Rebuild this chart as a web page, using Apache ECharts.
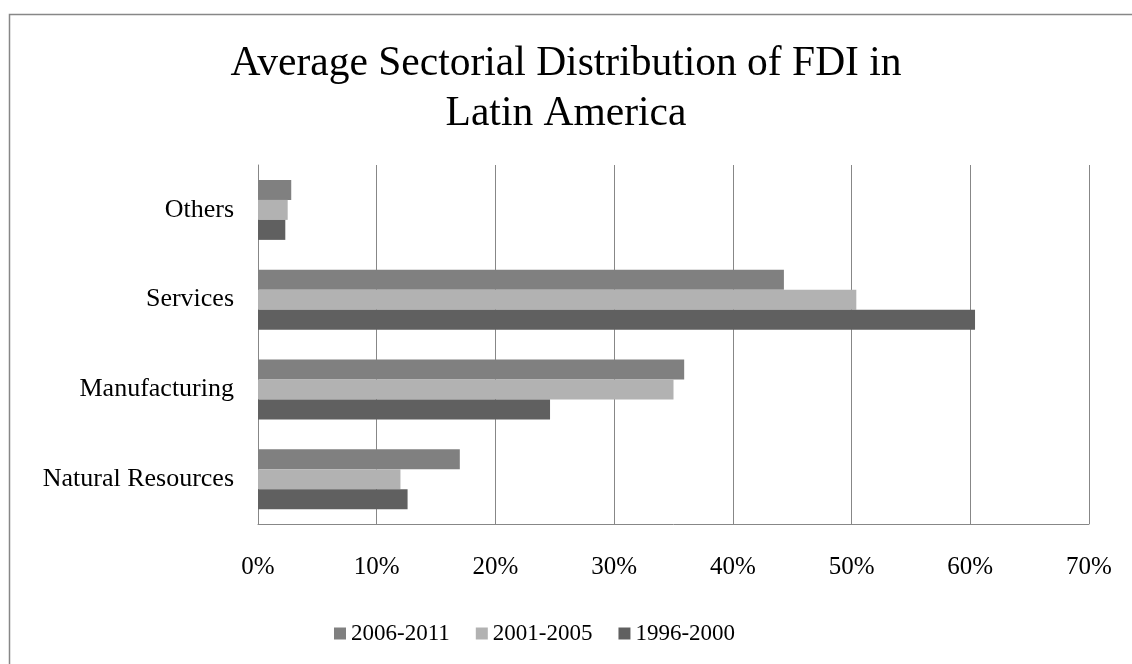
<!DOCTYPE html>
<html>
<head>
<meta charset="utf-8">
<script src="https://cdn.jsdelivr.net/npm/echarts@6/dist/echarts.min.js"></script>
<style>
  html, body { margin: 0; padding: 0; background: #ffffff; }
  #chart { width: 1132px; height: 664px; }
</style>
</head>
<body>
<div id="chart"></div>
<script>
// Sector categories, bottom to top on the vertical axis
const categories = ['Natural Resources', 'Manufacturing', 'Services', 'Others'];

// Average share of FDI per sector (percent)
const period2006_2011 = [17.0, 35.9, 44.3, 2.8];
const period2001_2005 = [12.0, 35.0, 50.4, 2.5];
const period1996_2000 = [12.6, 24.6, 60.4, 2.3];

const legendOrder = ['2006-2011', '2001-2005', '1996-2000'];

const FONT = '"Liberation Serif", "Times New Roman", serif';

const chart = echarts.init(document.getElementById('chart'), null, { renderer: 'canvas' });

function barSeries(name, data, color) {
  return {
    name: name,
    type: 'bar',
    data: data,
    barWidth: 20,
    barGap: '0%',
    itemStyle: { color: color },
    emphasis: { disabled: true }
  };
}

chart.setOption({
  backgroundColor: '#ffffff',
  animation: false,
  title: {
    text: 'Average Sectorial Distribution of FDI in\nLatin America',
    left: 'center',
    top: 34,
    textStyle: {
      fontFamily: FONT,
      fontSize: 41.5,
      fontWeight: 'normal',
      color: '#000000',
      lineHeight: 50
    }
  },
  legend: {
    data: legendOrder,
    left: 334,
    top: 622,
    padding: 0,
    itemWidth: 12,
    itemHeight: 12,
    itemGap: 26,
    icon: 'rect',
    textStyle: { fontFamily: FONT, fontSize: 23, color: '#000000' }
  },
  grid: {
    left: 258,
    right: 43,
    top: 165,
    height: 359,
    containLabel: false
  },
  xAxis: {
    type: 'value',
    min: 0,
    max: 70,
    interval: 10,
    axisLine: { show: true, lineStyle: { color: '#878787', width: 1 } },
    axisTick: { show: false },
    splitLine: { show: true, lineStyle: { color: '#878787', width: 1 } },
    axisLabel: {
      formatter: '{value}%',
      margin: 31,
      fontFamily: FONT,
      fontSize: 25,
      color: '#000000'
    }
  },
  yAxis: {
    type: 'category',
    data: categories,
    axisLine: { show: true, lineStyle: { color: '#878787', width: 1 } },
    axisTick: { show: false },
    axisLabel: {
      margin: 24,
      fontFamily: FONT,
      fontSize: 26,
      color: '#000000'
    }
  },
  series: [
    barSeries('2006-2011', period2006_2011, '#808080'),
    barSeries('2001-2005', period2001_2005, '#b2b2b2'),
    barSeries('1996-2000', period1996_2000, '#606060')
  ],
  graphic: [
    {
      type: 'rect',
      silent: true,
      z: -10,
      shape: { x: 9.5, y: 14.5, width: 1300, height: 900 },
      style: { fill: 'none', stroke: '#878787', lineWidth: 1.5 }
    }
  ]
});
</script>
</body>
</html>
